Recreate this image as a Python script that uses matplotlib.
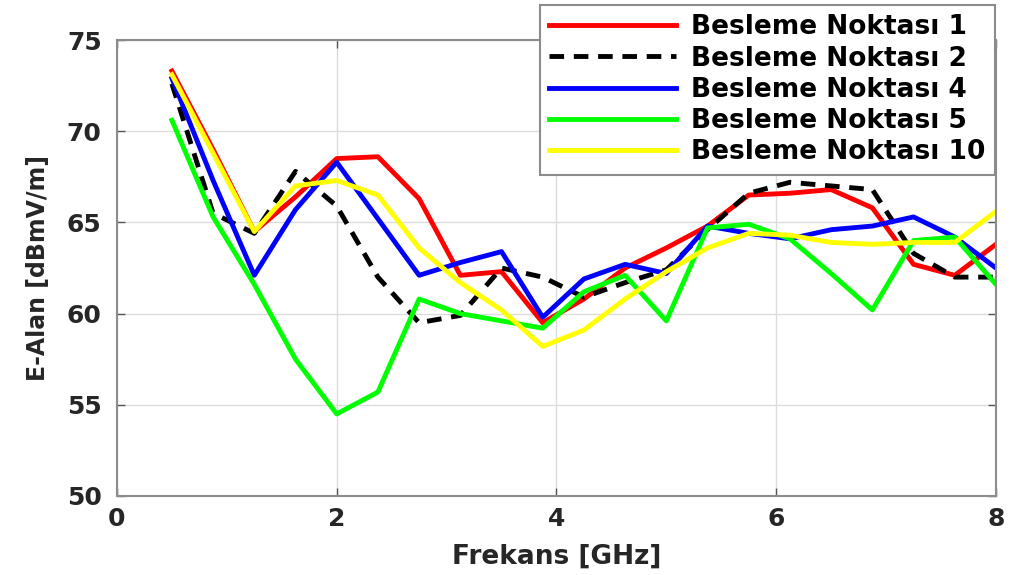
import matplotlib
matplotlib.use("Agg")
import matplotlib.pyplot as plt

# frequency points [GHz]
freq = [0.5, 0.875, 1.25, 1.625, 2.0, 2.375, 2.75, 3.125, 3.5, 3.875, 4.25,
        4.625, 5.0, 5.375, 5.75, 6.125, 6.5, 6.875, 7.25, 7.625, 8.0]

# E-field [dBmV/m] for each feed point
bn1 = [73.3, 69.0, 64.5, 66.4, 68.5, 68.6, 66.3, 62.1, 62.3, 59.5, 60.8,
       62.5, 63.6, 64.8, 66.5, 66.6, 66.8, 65.8, 62.7, 62.1, 63.8]
bn2 = [72.6, 65.5, 64.4, 67.8, 65.9, 62.0, 59.5, 59.9, 62.5, 62.0, 60.9,
       61.7, 62.4, 64.6, 66.6, 67.2, 67.0, 66.8, 63.3, 62.0, 62.0]
bn4 = [72.9, 67.3, 62.1, 65.7, 68.3, 65.2, 62.1, 62.8, 63.4, 59.8, 61.9,
       62.7, 62.2, 64.8, 64.4, 64.1, 64.6, 64.8, 65.3, 64.2, 62.5]
bn5 = [70.6, 65.3, 61.6, 57.5, 54.5, 55.7, 60.8, 60.0, 59.6, 59.2, 61.2,
       62.1, 59.6, 64.7, 64.9, 64.1, 62.2, 60.2, 64.0, 64.2, 61.6]
bn10 = [73.1, 68.8, 64.5, 67.0, 67.3, 66.5, 63.6, 61.7, 60.2, 58.2, 59.1,
        60.8, 62.3, 63.6, 64.4, 64.3, 63.9, 63.8, 63.9, 63.9, 65.6]

labels = ["Besleme Noktası 1", "Besleme Noktası 2", "Besleme Noktası 4",
          "Besleme Noktası 5", "Besleme Noktası 10"]

plt.rcParams["font.family"] = ["DejaVu Sans"]
plt.rcParams["font.weight"] = "bold"

fig = plt.figure(figsize=(10.1, 5.75), dpi=100)
ax = fig.add_axes([0.1158, 0.1374, 0.8703, 0.7930])

lw = 3.5
ax.plot(freq, bn1, color="#ff0000", lw=lw, label=labels[0])
ax.plot(freq, bn2, color="#000000", lw=lw, ls=(0, (3, 2)), label=labels[1])
ax.plot(freq, bn4, color="#0000ff", lw=lw, label=labels[2])
ax.plot(freq, bn5, color="#00ff00", lw=lw, label=labels[3])
ax.plot(freq, bn10, color="#ffff00", lw=lw, label=labels[4])

ax.set_xlim(0, 8)
ax.set_ylim(50, 75)
ax.set_xticks([0, 2, 4, 6, 8])
ax.set_yticks([50, 55, 60, 65, 70, 75])
ax.grid(True, color="#dcdcdc", lw=1)
ax.set_axisbelow(True)
ax.tick_params(direction="in", top=True, right=True, length=6, width=1,
               color="#555555", labelsize=18, labelcolor="#262626")
ax.tick_params(axis="x", pad=8)
ax.tick_params(axis="y", pad=11)
for s in ax.spines.values():
    s.set_color("#8c8c8c")
    s.set_linewidth(1.5)

ax.set_xlabel("Frekans [GHz]", fontsize=19, fontweight="bold",
              color="#262626", labelpad=9)
ax.set_ylabel("E-Alan [dBmV/m]", fontsize=17, fontweight="bold",
              color="#262626", labelpad=12)

leg = ax.legend(loc="upper right", bbox_to_anchor=(995 / 1010, 1 - 5 / 575),
                bbox_transform=fig.transFigure, borderaxespad=0,
                fontsize=19, handlelength=4.8, handletextpad=0.6,
                labelspacing=0.2, borderpad=0.35, fancybox=False,
                framealpha=1, edgecolor="#8c8c8c")
leg.get_frame().set_linewidth(1.5)
for t in leg.get_texts():
    t.set_fontweight("bold")

fig.savefig("out.png", dpi=100)
